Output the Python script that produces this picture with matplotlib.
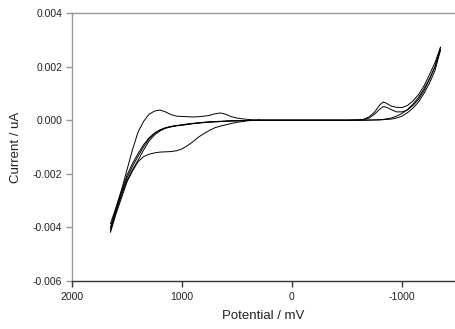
import matplotlib
matplotlib.use("Agg")
import matplotlib.pyplot as plt
import numpy as np

plt.rcParams.update({"font.family": ["Liberation Sans", "DejaVu Sans"],
                     "axes.unicode_minus": False})

# ── Data (potential in mV, current in units of 1e-3) ──
# left side, anodic region (potential 1650 -> 300 mV)
pot_left = [1650, 1600, 1550, 1500, 1450, 1400, 1350, 1300, 1250, 1200, 1150, 1100,
            1050, 1000, 950, 900, 850, 800, 750, 700, 650, 600, 550, 500, 450, 400, 350, 300]
cur_ox_peak = [-3.86, -3.25, -2.6, -1.85, -1.1, -0.45, -0.05, 0.22, 0.34, 0.38, 0.31, 0.21,
               0.15, 0.14, 0.13, 0.12, 0.13, 0.15, 0.18, 0.24, 0.27, 0.22, 0.13, 0.08,
               0.05, 0.03, 0.01, 0.0]
cur_shoulder = [-4.18, -3.5, -2.9, -2.3, -1.9, -1.55, -1.36, -1.27, -1.22, -1.19, -1.18, -1.17,
                -1.14, -1.07, -0.95, -0.8, -0.63, -0.5, -0.38, -0.28, -0.22, -0.17, -0.12,
                -0.08, -0.05, -0.02, -0.01, 0.0]
cur_bundle_a = [-4.12, -3.42, -2.8, -2.25, -1.85, -1.5, -1.12, -0.78, -0.55, -0.40, -0.30, -0.25,
                -0.21, -0.19, -0.16, -0.13, -0.11, -0.09, -0.07, -0.06, -0.05, -0.04, -0.03,
                -0.02, -0.015, -0.01, -0.005, 0.0]
cur_bundle_b = [-4.05, -3.35, -2.72, -2.15, -1.72, -1.35, -1.0, -0.7, -0.5, -0.37, -0.29, -0.24,
                -0.2, -0.18, -0.15, -0.12, -0.1, -0.08, -0.07, -0.06, -0.05, -0.04, -0.03,
                -0.02, -0.015, -0.01, -0.005, 0.0]
cur_bundle_c = [-4.0, -3.3, -2.65, -2.05, -1.62, -1.25, -0.92, -0.66, -0.48, -0.36, -0.28, -0.23,
                -0.2, -0.17, -0.14, -0.12, -0.1, -0.08, -0.06, -0.05, -0.04, -0.03, -0.02,
                -0.02, -0.01, -0.01, -0.005, 0.0]

# right side, cathodic region (potential 300 -> -1350 mV)
pot_right = [300, 0, -300, -500, -600, -650, -700, -750, -800, -830, -860, -900, -950,
             -1000, -1050, -1100, -1150, -1200, -1250, -1300, -1350]
cur_red_peak1 = [0.0, 0.0, 0.0, 0.0, 0.01, 0.03, 0.12, 0.30, 0.58, 0.68, 0.63, 0.53, 0.48,
                 0.47, 0.55, 0.72, 0.95, 1.28, 1.70, 2.15, 2.72]
cur_red_peak2 = [0.0, 0.0, 0.0, 0.0, 0.01, 0.02, 0.08, 0.22, 0.42, 0.51, 0.48, 0.40, 0.31,
                 0.31, 0.38, 0.55, 0.78, 1.10, 1.52, 2.00, 2.62]
cur_return1 = [0.0, 0.0, 0.0, 0.0, 0.0, 0.0, 0.01, 0.01, 0.02, 0.03, 0.05, 0.08, 0.15,
               0.25, 0.40, 0.60, 0.85, 1.17, 1.55, 2.00, 2.72]
cur_return2 = [0.0, 0.0, 0.0, 0.0, 0.0, 0.0, 0.0, 0.01, 0.01, 0.02, 0.03, 0.04, 0.08,
               0.15, 0.28, 0.45, 0.68, 1.00, 1.38, 1.85, 2.62]

x_ticks = [2000, 1000, 0, -1000]
y_ticks = [-0.006, -0.004, -0.002, 0.000, 0.002, 0.004]

fig = plt.figure(figsize=(4.55, 3.29), dpi=100)
ax = fig.add_axes([72 / 455, 48 / 329, 1 - 72 / 455, 268 / 329])

for cur in [cur_ox_peak, cur_shoulder, cur_bundle_a, cur_bundle_b, cur_bundle_c]:
    ax.plot(pot_left, np.array(cur) * 1e-3, color="black", lw=0.7)
for cur in [cur_red_peak1, cur_red_peak2, cur_return1, cur_return2]:
    ax.plot(pot_right, np.array(cur) * 1e-3, color="black", lw=0.7)

ax.set_xlim(2000, -1482)
ax.set_ylim(-0.006, 0.004)
ax.set_xticks(x_ticks)
ax.set_xticklabels([str(v) for v in x_ticks])
ax.set_yticks(y_ticks)
ax.set_yticklabels([f"{v:.3f}" for v in y_ticks])

ax.spines["right"].set_visible(False)
ax.spines["top"].set_color("#999999")
ax.spines["left"].set_color("#999999")
ax.spines["bottom"].set_color("#333333")
for s in ax.spines.values():
    s.set_linewidth(1.0)

ax.tick_params(axis="y", direction="out", length=4, width=1, color="#999999",
               labelsize=7.5, labelcolor="#222222", pad=3)
ax.tick_params(axis="x", direction="out", length=4, width=1, color="#333333",
               labelsize=7.5, labelcolor="#222222", pad=4)

ax.set_xlabel("Potential / mV", fontsize=9.5, color="#222222", labelpad=6)
ax.set_ylabel("Current / uA", fontsize=9.5, color="#222222", labelpad=8)

fig.savefig("out.png", dpi=100, facecolor="white")
